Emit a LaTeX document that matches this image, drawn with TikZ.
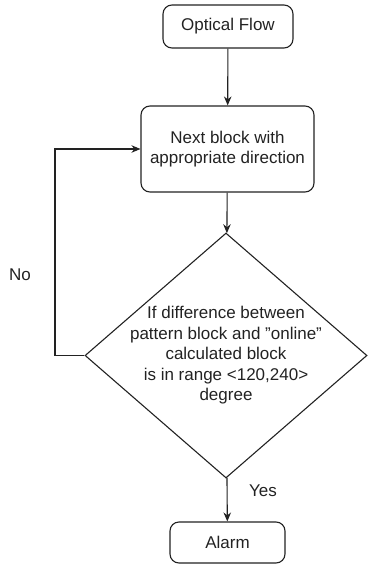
\documentclass[tikz,border=0pt]{standalone}
\usepackage{fontspec}
\setmainfont{Liberation Sans}
\usetikzlibrary{arrows.meta, shapes.geometric}
\definecolor{lineGray}{HTML}{222222}

\begin{document}
\begin{tikzpicture}[x=1pt, y=1pt,
      >={Stealth[length=9pt, width=7.5pt]}, line width=1.1pt,
      every node/.style={font=\fontsize{17}{20.5}\selectfont, text=lineGray},
      blk/.style={rectangle, rounded corners=9pt, draw=lineGray, align=center, inner sep=0pt},
      dec/.style={diamond, draw=lineGray, align=center, inner sep=-8pt, shape aspect=1.15,
                  minimum width=282pt, minimum height=245pt},
      lbl/.style={inner sep=1pt}]
    \useasboundingbox (0,0) rectangle (368,-564);
    % boxes
    \node[blk, minimum width=130pt, minimum height=43pt] (flow) at (228,-26.5) {Optical Flow};
    \node[blk, minimum width=173pt, minimum height=86pt] (next) at (227.5,-149) {Next block with\\appropriate direction};
    \node[dec] (test) at (226,-355.5) {If difference between\\pattern block and \symbol{34}online\symbol{34}\\calculated block\\is in range <120,240>\\degree};
    \node[blk, minimum width=115pt, minimum height=41pt] (alarm) at (227.5,-542.5) {Alarm};
    % flow
    \draw[->, lineGray] (flow) -- (next);
    \draw[->, lineGray] (next) -- (test);
    \draw[->, lineGray] (test) -- (alarm);
    \node[lbl] (yes) at (263,-491) {Yes};
    % loop back
    \coordinate (turn) at (55,-355.5);
    \draw[->, lineGray] (test.west) -- (turn) |- (next.west);
    \node[lbl] (no) at (20,-275) {No};
  \end{tikzpicture}
\end{document}
